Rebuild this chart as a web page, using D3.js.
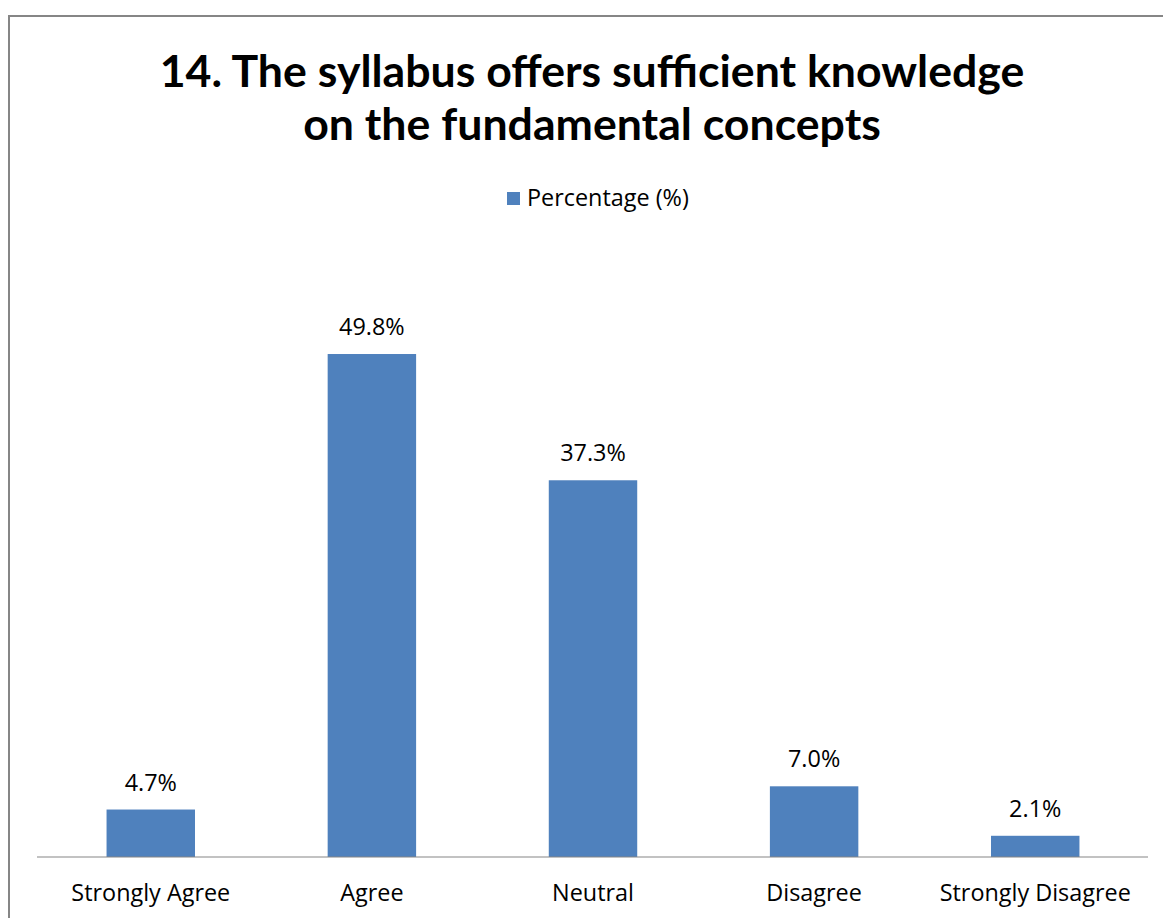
<!DOCTYPE html>
<html><head><meta charset="utf-8">
<script src="https://cdn.jsdelivr.net/npm/d3@7"></script>
<style>body{margin:0;background:#fff}svg{display:block}</style>
</head><body>
<svg id="chart" width="1163" height="918"></svg>
<script>
const categories = ["Strongly Agree","Agree","Neutral","Disagree","Strongly Disagree"];
const values = [4.7, 49.8, 37.3, 7.0, 2.1];
const valueLabels = ["4.7%","49.8%","37.3%","7.0%","2.1%"];
const seriesName = "Percentage (%)";
const titleLines = ["14. The syllabus offers sufficient knowledge","on the fundamental concepts"];

const svg = d3.select("#chart");
const tfont = "Lato, 'Open Sans', sans-serif";
const font = "'Open Sans', Lato, sans-serif";
svg.append("rect").attr("x",9).attr("y",16).attr("width",1170).attr("height",940)
  .attr("fill","#fff").attr("stroke","#868686").attr("stroke-width",2);

const x = d3.scaleBand().domain(categories).range([38,1148]).paddingInner(0.6).paddingOuter(0.31);
const xAxisScale = x.copy().range([37,1148]);
const y = d3.scaleLinear().domain([0,60]).range([857,251]);

const probe = svg.append("text").attr("font-family",font).attr("font-size",20).text("Strongly Agree");
const fs = 20*159/probe.node().getComputedTextLength();
probe.remove();

const titles = titleLines.map((t,i)=>svg.append("text").attr("x",592).attr("y",[87,140][i]).attr("text-anchor","middle")
    .attr("font-family",tfont).attr("font-weight","bold").attr("font-size",40).attr("fill","#000").text(t));
const tfs = 40*865/titles[0].node().getComputedTextLength();
titles.forEach(el=>el.attr("font-size",tfs));

svg.append("rect").attr("x",507).attr("y",192).attr("width",13).attr("height",13).attr("fill","#4F81BD");
svg.append("text").attr("x",527).attr("y",206).attr("font-family",font).attr("font-size",fs).attr("fill","#000").text(seriesName);

svg.selectAll("rect.bar").data(values).join("rect").attr("class","bar")
  .attr("x",(d,i)=>x(categories[i])).attr("width",x.bandwidth())
  .attr("y",d=>y(d)).attr("height",d=>y(0)-y(d)).attr("fill","#4F81BD");

svg.selectAll("text.val").data(values).join("text").attr("class","val")
  .attr("x",(d,i)=>x(categories[i])+x.bandwidth()/2).attr("y",d=>y(d)-19)
  .attr("text-anchor","middle").attr("font-family",font).attr("font-size",fs).attr("fill","#000")
  .text((d,i)=>valueLabels[i]);

const ax = svg.append("g").attr("transform","translate(0,857)")
  .call(d3.axisBottom(x).tickSize(0).tickPadding(0));
ax.select(".domain").attr("d","M37,0H1148").attr("stroke","#868686").attr("stroke-width",1.2);
ax.selectAll("text").attr("font-family",font).attr("font-size",fs).attr("fill","#000")
  .attr("dy",null).attr("y",44);
</script>
</body></html>
